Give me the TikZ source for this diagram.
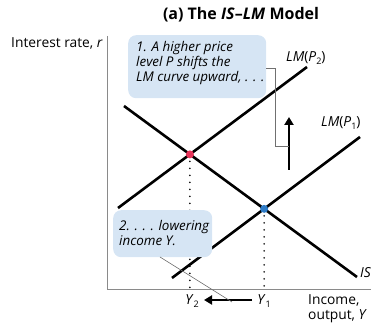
\documentclass[tikz,border=0pt]{standalone}
\usepackage{fontspec}
\setmainfont{Open Sans}
\usetikzlibrary{arrows.meta,intersections}
\definecolor{boxblue}{HTML}{D6E5F4}
\definecolor{dotred}{HTML}{E8345A}
\definecolor{dotblue}{HTML}{2E7BC6}
\definecolor{axisgray}{HTML}{8A8A8A}
\definecolor{conngray}{HTML}{707070}
\newcommand{\sbs}[1]{\raisebox{-0.45ex}{\fontsize{9}{9}\selectfont #1}}
\begin{document}
\begin{tikzpicture}[x=1pt,y=-1pt,
  curveline/.style={line width=2.6pt, black},
  axisline/.style={line width=0.9pt, axisgray},
  connline/.style={line width=0.6pt, conngray},
  dotline/.style={line width=1.8pt, line cap=round, dash pattern=on 0pt off 7pt, black},
  bigarrow/.style={line width=2.8pt, -{Triangle[length=8pt,width=9pt]}},
  notebox/.style={fill=boxblue, rounded corners=8pt, anchor=north west, inner sep=0pt},
  boxtext/.style={align=left, anchor=north west, inner sep=0pt,
    font=\itshape\fontsize{13.4}{15}\selectfont},
  lbl/.style={font=\fontsize{13.8}{15}\selectfont, inner sep=0pt},
  eqdot/.style={circle, inner sep=0pt, minimum size=8pt}
]
\useasboundingbox (0,0) rectangle (373,326);

% title
\node[lbl, font=\bfseries\fontsize{16}{18}\selectfont] (title) at (241,15) {(a) The \textit{IS}--\textit{LM} Model};

% axes
\coordinate (otop) at (107,36);
\coordinate (orig) at (107,289);
\coordinate (xend) at (371,289);
\draw[axisline] (otop) -- (orig) -- (xend);
\node[lbl, anchor=east] (ylab) at (103,43) {Interest rate, \textit{r}};

% curves
\coordinate (is1) at (124,106);
\coordinate (is2) at (357,277);
\coordinate (lmb1) at (118,208);
\coordinate (lmb2) at (307,67);
\coordinate (lma1) at (172,278);
\coordinate (lma2) at (360,137);
\draw[curveline, name path=IS] (is1) -- (is2);
\draw[curveline, name path=LM2] (lmb1) -- (lmb2);
\draw[curveline, name path=LM1] (lma1) -- (lma2);
\path[name intersections={of=IS and LM2, by=E2}];
\path[name intersections={of=IS and LM1, by=E1}];

% dotted drops
\draw[dotline] (E2) -- (E2 |- orig);
\draw[dotline] (E1) -- (E1 |- orig);

% equilibrium dots
\node[eqdot, fill=dotred] (red) at (E2) {};
\node[eqdot, fill=dotblue] (blue) at (E1) {};

% curve labels
\node[lbl, anchor=west] (lmp2) at (286,58) {\textit{LM}(\textit{P}\sbs{2})};
\node[lbl, anchor=west] (lmp1) at (321,123) {\textit{LM}(\textit{P}\sbs{1})};
\node[lbl, anchor=west] (islab) at (360,273) {\textit{IS}};

% up arrow
\coordinate (ab) at (289,170);
\coordinate (at) at (289,117);
\draw[bigarrow] (ab) -- (at);

% box 1
\node[notebox, minimum width=138pt, minimum height=63pt] (b1) at (128,35) {};
\node[boxtext] (t1) at (136,41) {1. A higher price\\level P shifts the\\LM curve upward, . . .};
\coordinate (c1) at (275,68);
\coordinate (c2) at (275,146);
\draw[connline] (b1.east |- c1) -| (c2) -- (c2 -| ab);

% box 2
\node[notebox, minimum width=99pt, minimum height=47pt] (b2) at (113,210) {};
\node[boxtext] (t2) at (119,220) {2. . . . lowering\\income Y.};

% Y labels and left arrow
\node[lbl] (y2) at (192,301) {\textit{Y}\sbs{2}};
\node[lbl] (y1) at (264,301) {\textit{Y}\sbs{1}};
\coordinate (la) at (252,300);
\coordinate (lb) at (204,300);
\draw[bigarrow] (la) -- (lb);
\coordinate (n2) at (160,257);
\coordinate (n3) at (232,302);
\draw[connline] (n2) -- (n3);

% x label
\node[lbl, anchor=north west, align=left] (xlab) at (308,294) {Income,\\output, \textit{Y}};
\end{tikzpicture}
\end{document}
